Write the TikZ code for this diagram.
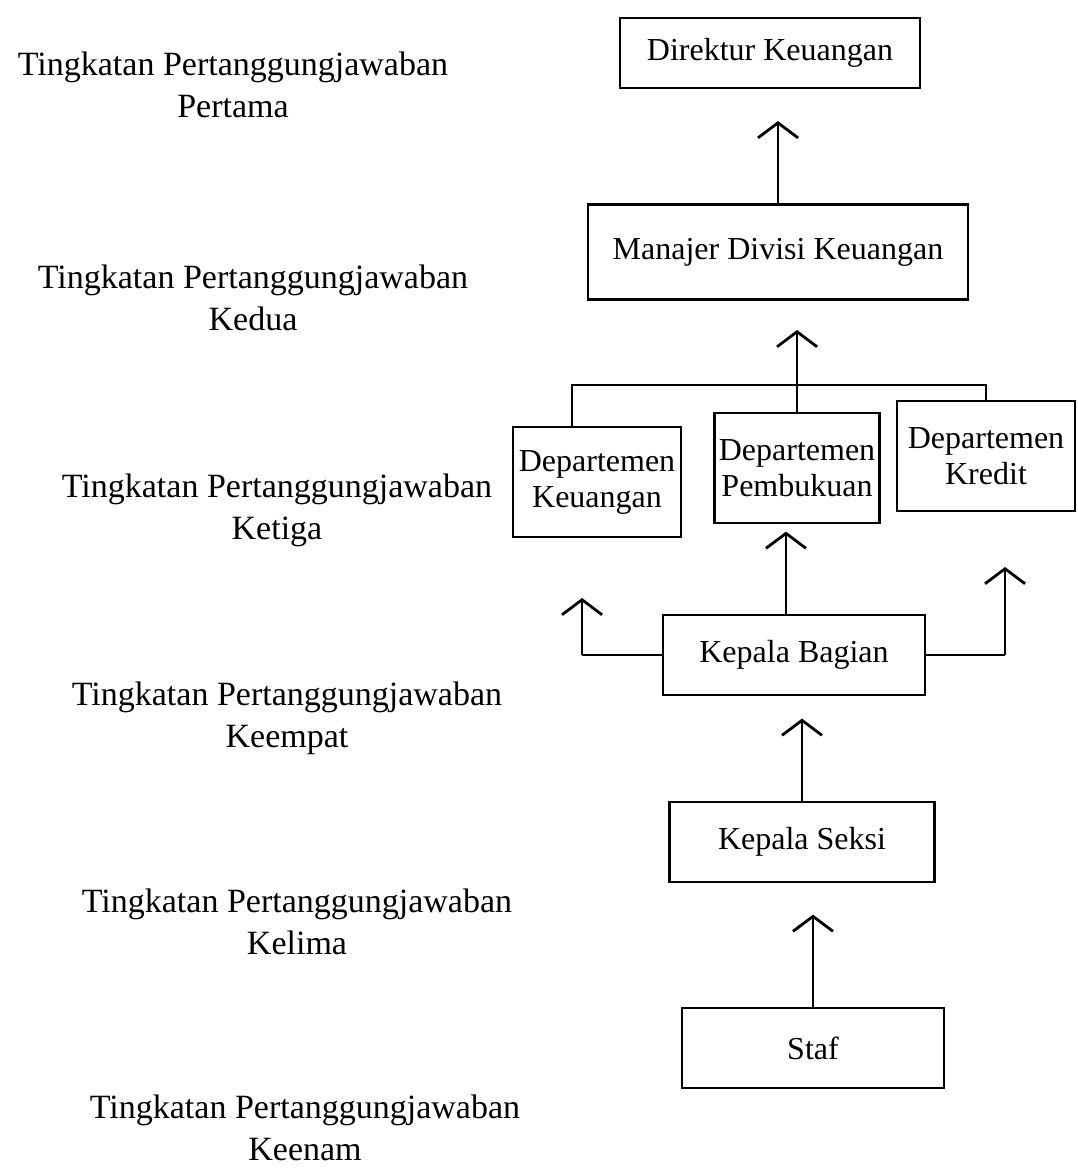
\documentclass[tikz,border=0pt]{standalone}
\usepackage{fontspec}
\setmainfont{Liberation Serif}
\usetikzlibrary{arrows.meta}
\begin{document}
\begin{tikzpicture}[x=1pt,y=-1pt,
  box/.style={draw,line width=2.8pt,minimum height=78pt,align=center,inner sep=4pt,font=\fontsize{32}{36}\selectfont},
  lvl/.style={align=center,font=\fontsize{34}{42}\selectfont},
  con/.style={line width=2.8pt},
  up/.style={con,-{Straight Barb[length=15pt,width=40pt,line width=2.8pt]}}]
\useasboundingbox (0,0) rectangle (1077,1174);
% boxes
\node[box,minimum width=300pt,minimum height=70pt] (dir) at (770,53) {Direktur Keuangan};
\node[box,minimum width=380pt,minimum height=95pt] (man) at (778,252) {Manajer Divisi Keuangan};
\node[box,minimum width=168pt,minimum height=110pt,inner sep=2pt] (dk) at (597,482) {Departemen\\Keuangan};
\node[box,minimum width=165pt,minimum height=110pt,inner sep=1pt] (dp) at (797,468) {Departemen\\Pembukuan};
\node[box,minimum width=178pt,minimum height=110pt,inner sep=1pt] (dc) at (986,456) {Departemen\\Kredit};
\node[box,minimum width=262pt,minimum height=80pt] (kb) at (794,655) {Kepala Bagian};
\node[box,minimum width=265pt,minimum height=80pt] (ks) at (802,842) {Kepala Seksi};
\node[box,minimum width=262pt,minimum height=80pt] (st) at (813,1048) {Staf};
% level labels
\node[lvl] (l1) at (233,85) {Tingkatan Pertanggungjawaban\\Pertama};
\node[lvl] (l2) at (253,298) {Tingkatan Pertanggungjawaban\\Kedua};
\node[lvl] (l3) at (277,510) {Tingkatan Pertanggungjawaban\\Ketiga};
\node[lvl] (l4) at (287,718) {Tingkatan Pertanggungjawaban\\Keempat};
\node[lvl] (l5) at (297,922) {Tingkatan Pertanggungjawaban\\Kelima};
\node[lvl] (l6) at (305,1128) {Tingkatan Pertanggungjawaban\\Keenam};
% coordinates
\coordinate (br) at (0,385);
\coordinate (dkt) at ([xshift=-25pt]dk.north);
\coordinate (hm) at (0,330);
\coordinate (hl) at (582,598);
\coordinate (hr) at (1005,567);
% connectors
\draw[up] (man.north) -- ++(0,-82);
\draw[con] (dkt) |- (br -| dc.north) -- (dc.north);
\draw[con] (dp.north) -- (dp.north |- br);
\draw[up] (dp.north |- br) -- (dp.north |- hm);
\draw[up] ([xshift=-8pt]kb.north) -- ++(0,-82);
\draw[con] (kb.west) -| (hl |- kb.west);
\draw[up] (hl |- kb.west) -- (hl);
\draw[con] (kb.east) -| (hr |- kb.east);
\draw[up] (hr |- kb.east) -- (hr);
\draw[up] (ks.north) -- ++(0,-82);
\draw[up] (st.north) -- ++(0,-92);
\end{tikzpicture}
\end{document}
